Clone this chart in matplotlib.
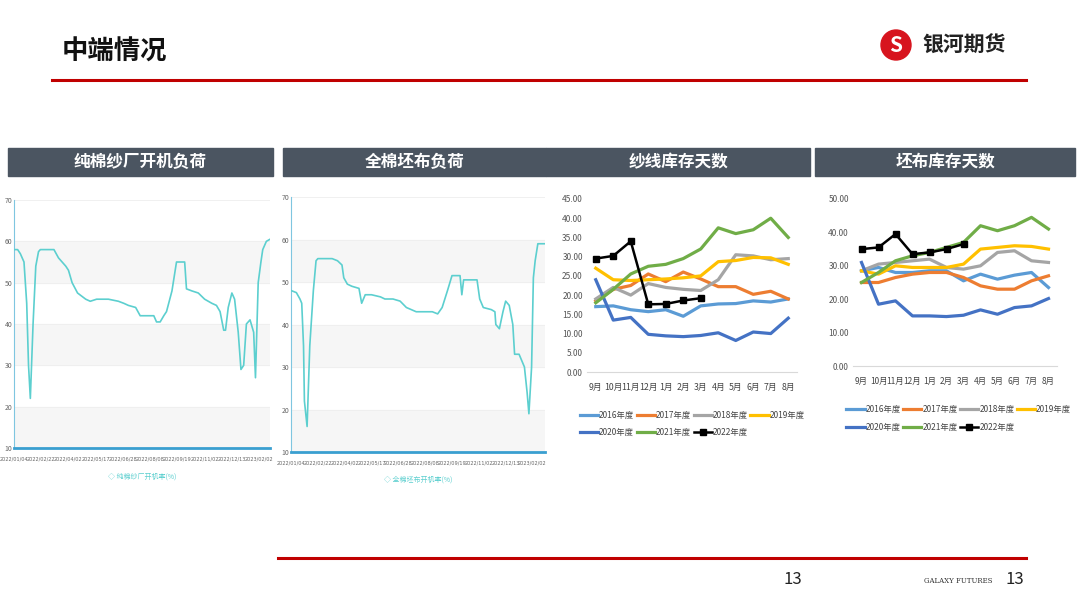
import matplotlib
matplotlib.use("Agg")
import matplotlib.pyplot as plt
from matplotlib.patches import Rectangle, Circle

plt.rcParams['font.family'] = ['Noto Sans CJK SC', 'DejaVu Sans']

W, H = 1080, 608
fig = plt.figure(figsize=(W/100, H/100), dpi=100)
fig.patch.set_facecolor('white')

def ax_px(x0, y0, x1, y1):
    return fig.add_axes([x0/W, 1-y1/H, (x1-x0)/W, (y1-y0)/H])

# ---------------- data ----------------
date_ticks = ["2022/01/04", "2022/02/22", "2022/04/02", "2022/05/17", "2022/06/28",
              "2022/08/08", "2022/09/19", "2022/11/02", "2022/12/13", "2023/02/02"]
yarn_day = [0,4,7,11,14,16,18,21,24,27,29,38,44,49,57,60,64,70,79,84,91,104,115,121,126,134,139,150,154,157,161,165,168,174,179,181,188,190,196,203,210,218,223,227,231,233,236,240,243,247,250,253,256,260,264,266,269,272,274,278,282]
yarn_val = [58,58,57,55,45,30,22,40,54,57.5,58,58,58,56,54,53,50,47.5,46,45.5,46,46,45.5,45,44.5,44,42,42,42,40.5,40.5,42,43,48,55,55,55,48.5,48,47.5,46,45,44.5,43,38.5,38.5,44,47.5,46,38,29,30,40,41,38,27,50,55,58,60,60.5]
cloth_day = [0,6,10,12,14,15,18,21,25,28,30,37,46,52,57,59,63,68,76,79,83,90,100,105,114,122,129,140,151,158,164,169,175,180,189,191,193,208,211,215,224,228,229,233,237,240,244,248,250,255,261,264,266,269,271,273,276,284]
cloth_val = [48,47.5,46,45,35,22,16,35,48,55,55.5,55.5,55.5,55,54,51,49.5,49,48.5,45,47,47,46.5,46,46,45.5,44,43,43,43,42.5,44,48,51.5,51.5,47,50.5,50.5,46,44,43.5,43,40,39,43,45.5,44.5,40,33,33,30,24,19,30,51,55,59,59]

months = ["9月","10月","11月","12月","1月","2月","3月","4月","5月","6月","7月","8月"]
seasons = ["2016年度","2017年度","2018年度","2019年度","2020年度","2021年度","2022年度"]
colors = ["#5b9bd5","#ed7d31","#a5a5a5","#ffc000","#4472c4","#70ad47","#000000"]
yarn_inv = [
    [17,17.2,16.2,15.7,16.2,14.5,17.2,17.7,17.8,18.5,18.2,19],
    [18.5,21.5,22.5,25.5,23.5,26,24.2,22.2,22.2,20.2,21,19],
    [19,22,20,23,22,21.5,21.2,24,30.5,30.2,29.2,29.5],
    [27,24,23.8,24,24.2,24.5,25,28.7,29,29.8,29.7,28],
    [24,13.5,14.2,9.8,9.4,9.2,9.5,10.2,8.2,10.4,10,14],
    [18,21.5,25.5,27.5,28,29.5,32,37.5,36,37,40,35],
    [29.5,30.2,34,17.6,17.7,18.6,19.2],
]
cloth_inv = [
    [28.5,29.5,28,28,28.5,28.5,25.5,27.5,26,27.2,28,23.5],
    [25,25,26.5,27.5,28,28,26.5,24,23,23,25.5,27],
    [28.5,30.5,31,31.5,32,29.5,29,30,34,34.5,31.5,31],
    [28.5,27.5,30,29.5,29.5,29.5,30.5,35,35.5,36,35.8,35],
    [31,18.5,19.5,15,15,14.8,15.2,16.8,15.5,17.5,18,20.2],
    [25,28,31.5,33,34,35.5,37,42,40.5,42,44.5,41],
    [35,35.5,39.5,33.5,34,35,36.5],
]

# ---------------- slide decorations ----------------
deco = fig.add_axes([0, 0, 1, 1]); deco.set_xlim(0, W); deco.set_ylim(H, 0); deco.axis('off')
deco.text(62, 52, "中端情况", fontsize=19, fontweight='bold', va='center', ha='left', color='#111111')
deco.plot([52, 1026], [80, 80], color='#c00000', lw=2.2)
deco.add_patch(Circle((896, 45), 15, color='#d7141e'))
deco.text(896, 45, "S", color='white', fontsize=15, fontweight='bold', ha='center', va='center', style='italic')
deco.text(922, 45, "银河期货", fontsize=15, fontweight='bold', va='center', ha='left', color='#222222')
deco.plot([278, 1026], [558, 558], color='#c00000', lw=2.2)
deco.text(793, 580, "13", fontsize=12, ha='center', va='center', color='#222222')
deco.text(958, 581, "GALAXY FUTURES", fontsize=5, ha='center', va='center', color='#333333', family='DejaVu Serif')
deco.text(1015, 580, "13", fontsize=12, ha='center', va='center', color='#222222')

headers = [(8, 273, "纯棉纱厂开机负荷"), (283, 546, "全棉坯布负荷"),
           (546, 810, "纱线库存天数"), (815, 1075, "坯布库存天数")]
for x0, x1, t in headers:
    deco.add_patch(Rectangle((x0, 148), x1-x0, 28, color='#4b5561'))
    deco.text((x0+x1)/2, 162, t, color='white', fontsize=12, fontweight='bold', ha='center', va='center')

# ---------------- line-load charts ----------------
def load_chart(rect, days, vals, legend_label, legend_y):
    ax = ax_px(*rect)
    for lo in (10, 30, 50):
        ax.axhspan(lo, lo+10, color='#f6f6f6', zorder=0)
    for yv in range(20, 71, 10):
        ax.axhline(yv, color='#eeeeee', lw=0.6, zorder=0)
    ax.plot(days, vals, color='#5ccfcf', lw=1.2, zorder=3)
    ax.set_xlim(0, max(days)); ax.set_ylim(10, 70)
    ax.set_xticks(range(0, 271, 30))
    ax.set_xticklabels(date_ticks, fontsize=3.6, color='#666666', family='Liberation Sans Narrow')
    ax.set_yticks(range(10, 71, 10)); ax.tick_params(axis='y', labelsize=5, colors='#666666', length=0, pad=1)
    ax.tick_params(axis='x', length=0, pad=6)
    for s in ('top', 'right'):
        ax.spines[s].set_visible(False)
    ax.spines['bottom'].set_color('#3a9fd0'); ax.spines['bottom'].set_linewidth(2)
    ax.spines['left'].set_color('#7fc6e0'); ax.spines['left'].set_linewidth(0.8)
    ax.set_facecolor('white')
    cx = (rect[0]+rect[2])/2
    deco.text(cx, legend_y, "◇ " + legend_label, color='#5ccfcf', fontsize=5, ha='center', va='center')
    return ax

load_chart((14, 200, 270, 448), yarn_day, yarn_val, "纯棉纱厂开机率(%)", 477)
load_chart((291, 197, 545, 452), cloth_day, cloth_val, "全棉坯布开机率(%)", 480)

# ---------------- inventory charts ----------------
def inv_chart(rect, data, ymax, ystep, leg_y, mfs):
    ax = ax_px(*rect)
    x = list(range(12))
    for s, c, d in zip(seasons, colors, data):
        if s == "2022年度":
            ax.plot(x[:len(d)], d, color=c, lw=1.8, marker='s', ms=4, zorder=5)
        else:
            ax.plot(x[:len(d)], d, color=c, lw=2.3, zorder=3)
    ax.set_xlim(-0.5, 11.5); ax.set_ylim(0, ymax)
    ax.set_xticks(x); ax.set_xticklabels(months, fontsize=mfs, color='#444444')
    yt = [i*ystep for i in range(int(ymax/ystep)+1)]
    ax.set_yticks(yt); ax.set_yticklabels([f"{v:.2f}" for v in yt], fontsize=6, color='#555555')
    ax.tick_params(length=0, pad=3)
    ax.tick_params(axis='x', pad=8)
    for s in ('top', 'right', 'left'):
        ax.spines[s].set_visible(False)
    ax.spines['bottom'].set_color('#d9d9d9')
    lines = ax.get_lines()
    order = [0, 4, 1, 5, 2, 6, 3]
    leg = ax.legend([lines[i] for i in order], [seasons[i] for i in order], loc='upper left',
                    bbox_to_anchor=(-0.07, leg_y), ncol=4,
                    frameon=False, fontsize=6, handlelength=2.2, handletextpad=0.1,
                    columnspacing=0.3, labelspacing=1.0)
    for t in leg.get_texts():
        t.set_color('#444444')
    return ax

inv_chart((587, 199, 797, 372), yarn_inv, 45, 5, -0.18, 6.3)
inv_chart((853, 199, 1057, 366), cloth_inv, 50, 10, -0.19, 6)

fig.savefig("out.png", dpi=100, facecolor='white')
